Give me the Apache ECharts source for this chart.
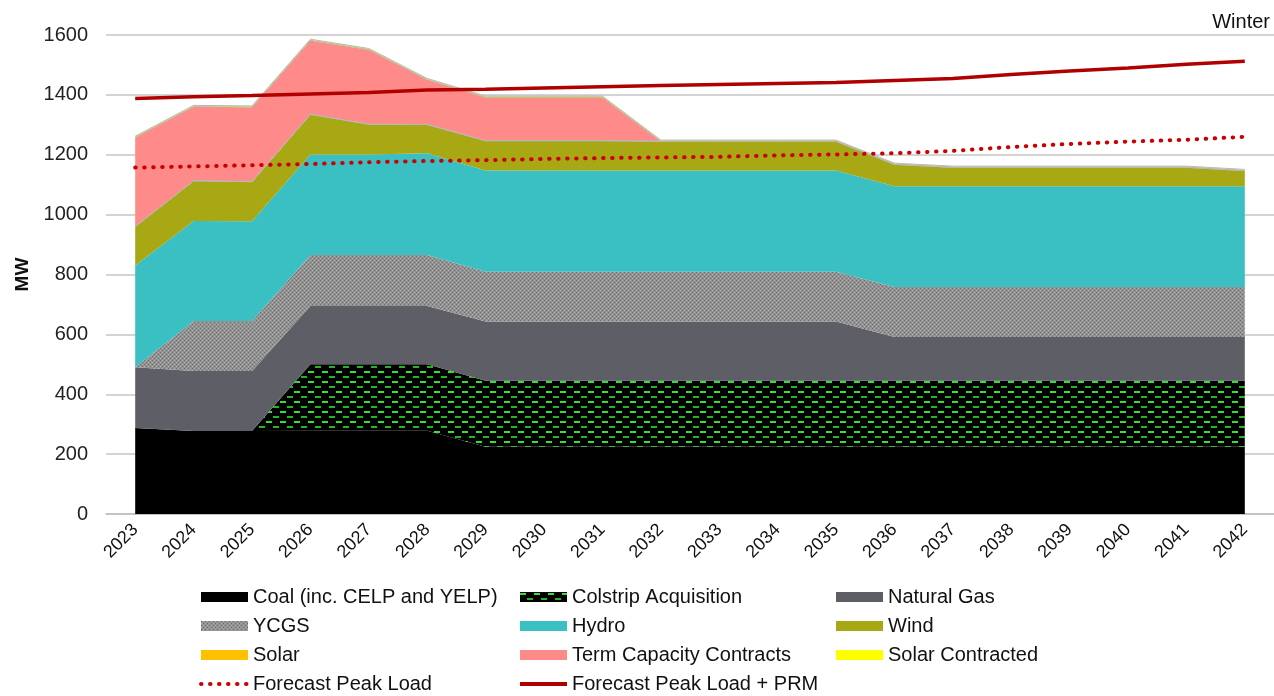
<!DOCTYPE html>
<html>
<head>
<meta charset="utf-8">
<script src="https://cdn.jsdelivr.net/npm/echarts@6/dist/echarts.min.js"></script>
<style>
  html, body { margin: 0; padding: 0; background: #fff; }
  #main { width: 1274px; height: 696px; }
</style>
</head>
<body>
<div id="main"></div>
<script>
const years = ['2023', '2024', '2025', '2026', '2027', '2028', '2029', '2030', '2031', '2032',
  '2033', '2034', '2035', '2036', '2037', '2038', '2039', '2040', '2041', '2042'];

const coal = [287, 277, 277, 278, 278, 278, 225, 225, 225, 225, 225, 225, 225, 225, 225, 225, 225, 225, 225, 225];
const colstrip = [0, 0, 0, 222, 222, 222, 220, 220, 220, 220, 220, 220, 220, 220, 220, 220, 220, 220, 220, 220];
const naturalGas = [203, 201, 201, 195, 195, 195, 198, 198, 198, 198, 198, 198, 198, 146, 146, 146, 146, 146, 146, 146];
const ycgs = [0, 167, 167, 170, 170, 170, 166, 166, 166, 166, 166, 166, 166, 167, 167, 167, 167, 167, 167, 167];
const hydro = [340, 334, 333, 336, 336, 340, 338, 338, 338, 338, 338, 338, 338, 337, 337, 337, 337, 337, 337, 337];
const wind = [130, 134, 132, 134, 101, 96, 100, 100, 100, 98, 98, 98, 98, 73, 63, 63, 63, 63, 63, 52];
const solar = [0, 0, 0, 0, 0, 0, 0, 0, 0, 0, 0, 0, 0, 0, 0, 0, 0, 0, 0, 0];
const termCapacity = [298, 248, 249, 247, 249, 150, 145, 145, 145, 0, 0, 0, 0, 0, 0, 0, 0, 0, 0, 0];
const solarContracted = [4, 4, 4, 4, 4, 4, 4, 4, 4, 4, 4, 4, 4, 4, 4, 4, 4, 4, 4, 4];
const peakLoad = [1157, 1161, 1165, 1169, 1175, 1179, 1182, 1186, 1189, 1191, 1193, 1198, 1201, 1205, 1213, 1226, 1236, 1244, 1250, 1260];
const peakLoadPrm = [1388, 1394, 1398, 1403, 1408, 1416, 1419, 1423, 1427, 1431, 1435, 1438, 1441, 1448, 1455, 1468, 1480, 1490, 1502, 1512];

// hatch fills like the excel pattern fills
function makeColstripPattern() {
  const c = document.createElement('canvas');
  c.width = 14; c.height = 10;
  const ctx = c.getContext('2d');
  ctx.fillStyle = '#000';
  ctx.fillRect(0, 0, 14, 10);
  ctx.fillStyle = '#33e033';
  ctx.fillRect(0, 1, 6, 2);
  ctx.fillStyle = '#22b822';
  ctx.fillRect(7, 6, 6, 2);
  return c;
}
function makeYcgsPattern() {
  const c = document.createElement('canvas');
  c.width = 4; c.height = 4;
  const ctx = c.getContext('2d');
  ctx.fillStyle = '#939393';
  ctx.fillRect(0, 0, 4, 4);
  ctx.fillStyle = '#6c6c6c';
  ctx.fillRect(0, 0, 1, 1);
  ctx.fillRect(2, 2, 1, 1);
  ctx.fillStyle = '#acacac';
  ctx.fillRect(2, 0, 1, 1);
  ctx.fillRect(0, 2, 1, 1);
  return c;
}
const colstripFill = { image: makeColstripPattern(), repeat: 'repeat' };
const ycgsFill = { image: makeYcgsPattern(), repeat: 'repeat' };

const font = "'Liberation Sans', Arial, sans-serif";
const edge = '#b8b8b8';

function area(name, data, fill, lineColor) {
  return {
    name: name,
    type: 'line',
    stack: 'supply',
    data: data,
    symbol: 'none',
    itemStyle: { color: typeof fill === 'string' ? fill : '#555' },
    lineStyle: lineColor ? { color: lineColor, width: 1 } : { width: 0 },
    areaStyle: { color: fill, opacity: 1 }
  };
}

const myChart = echarts.init(document.getElementById('main'));

const legendText = { fontSize: 20, color: '#111', fontFamily: font, lineHeight: 20 };
function legendCol(left, items) {
  return {
    orient: 'vertical',
    left: left,
    top: 587,
    padding: 0,
    itemWidth: 47,
    itemHeight: 10,
    itemGap: 9,
    textStyle: legendText,
    data: items
  };
}

const option = {
  animation: false,
  textStyle: { fontFamily: font },
  title: {
    text: 'Winter',
    right: 4,
    top: 12,
    padding: 0,
    textStyle: { fontSize: 20, fontWeight: 'normal', color: '#111', fontFamily: font }
  },
  grid: { left: 106, top: 35, width: 1178, height: 479 },
  legend: [
    legendCol(199, [
      { name: 'Coal (inc. CELP and YELP)', icon: 'rect' },
      { name: 'YCGS', icon: 'rect', itemStyle: { color: ycgsFill } },
      { name: 'Solar', icon: 'rect' },
      { name: 'Forecast Peak Load', itemStyle: { opacity: 0 }, lineStyle: { width: 4 } }
    ]),
    legendCol(518, [
      { name: 'Colstrip Acquisition', icon: 'rect', itemStyle: { color: colstripFill } },
      { name: 'Hydro', icon: 'rect' },
      { name: 'Term Capacity Contracts', icon: 'rect' },
      { name: 'Forecast Peak Load + PRM', itemStyle: { opacity: 0 }, lineStyle: { width: 4 } }
    ]),
    legendCol(836, [
      { name: 'Natural Gas', icon: 'rect' },
      { name: 'Wind', icon: 'rect' },
      { name: 'Solar Contracted', icon: 'rect' }
    ])
  ],
  xAxis: {
    type: 'category',
    data: years,
    boundaryGap: true,
    axisLine: { lineStyle: { color: '#bdbdbd', width: 1.5 } },
    axisTick: { show: false },
    axisLabel: { rotate: 45, fontSize: 18, color: '#111', margin: 13, interval: 0 }
  },
  yAxis: {
    type: 'value',
    min: 0,
    max: 1600,
    interval: 200,
    name: 'MW',
    nameLocation: 'middle',
    nameGap: 68,
    nameTextStyle: { fontSize: 19, fontWeight: 'bold', color: '#111' },
    axisLine: { show: false },
    axisTick: { show: false },
    axisLabel: { fontSize: 20, color: '#222', margin: 18, formatter: function (v) { return String(v); } },
    splitLine: { lineStyle: { color: '#c6c6c6', width: 1.5 } }
  },
  series: [
    area('Coal (inc. CELP and YELP)', coal, '#000000'),
    area('Colstrip Acquisition', colstrip, colstripFill),
    area('Natural Gas', naturalGas, '#5e5e66'),
    area('YCGS', ycgs, ycgsFill),
    area('Hydro', hydro, '#3abfc2'),
    area('Wind', wind, '#a8a814', edge),
    area('Solar', solar, '#ffc000', edge),
    area('Term Capacity Contracts', termCapacity, '#ff8a8a', edge),
    area('Solar Contracted', solarContracted, '#ffff00', edge),
    {
      name: 'Forecast Peak Load',
      type: 'line',
      data: peakLoad,
      symbol: 'none',
      z: 5,
      itemStyle: { color: '#cc0000' },
      lineStyle: { color: '#cc0000', width: 4, type: [0.5, 8.5], cap: 'round' }
    },
    {
      name: 'Forecast Peak Load + PRM',
      type: 'line',
      data: peakLoadPrm,
      symbol: 'none',
      z: 5,
      itemStyle: { color: '#b00000' },
      lineStyle: { color: '#b00000', width: 3.5 }
    }
  ]
};

myChart.setOption(option);
</script>
</body>
</html>
